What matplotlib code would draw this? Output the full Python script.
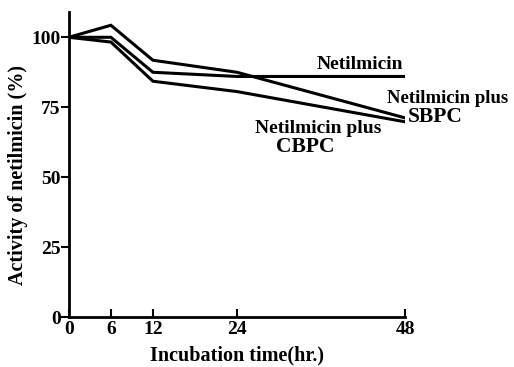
import matplotlib
matplotlib.use("Agg")
import matplotlib.pyplot as plt

hours = [0, 6, 12, 24, 48]
netilmicin = [100, 100, 87.5, 86, 86]
plus_sbpc = [100, 104.3, 91.8, 87.5, 71.2]
plus_cbpc = [100, 98.3, 84.3, 80.6, 69.8]

x_ticks = [0, 6, 12, 24, 48]
y_ticks = [0, 25, 50, 75, 100]

plt.rcParams['font.family'] = ['Liberation Serif', 'DejaVu Serif']
plt.rcParams['font.weight'] = 'bold'

fig = plt.figure(figsize=(5.14, 3.67), dpi=100)
ax = fig.add_axes([0.134, 0.136, 0.654, 0.831])

for ys in (netilmicin, plus_sbpc, plus_cbpc):
    ax.plot(hours, ys, color='black', lw=2.2, solid_joinstyle='miter')

ax.set_xlim(0, 48)
ax.set_ylim(0, 109)
ax.spines['top'].set_visible(False)
ax.spines['right'].set_visible(False)
ax.spines['left'].set_linewidth(2)
ax.spines['bottom'].set_linewidth(2)
ax.spines['bottom'].set_bounds(0, 48)

ax.set_xticks(x_ticks)
ax.set_yticks(y_ticks)
ax.tick_params(axis='x', direction='in', length=6, width=1.5, labelsize=14, pad=3)
ax.tick_params(axis='y', direction='out', length=6, width=1.5, labelsize=14, pad=0)
for lab in ax.get_xticklabels() + ax.get_yticklabels():
    lab.set_fontweight('bold')

ax.set_xlabel('Incubation time(hr.)', fontsize=14.5, fontweight='bold', labelpad=5)
ax.set_ylabel('Activity of netilmicin (%)', fontsize=14.5, fontweight='bold')
ax.yaxis.set_label_coords(-0.122, 0.466)

ax.text(41.5, 90.4, 'Netilmicin', fontsize=14, fontweight='bold', ha='center', va='center')
ax.text(54.1, 78.2, 'Netilmicin plus', fontsize=13.5, fontweight='bold', ha='center',
        va='center', clip_on=False)
ax.text(52.3, 71.4, 'SBPC', fontsize=15.5, fontweight='bold', ha='center', va='center',
        clip_on=False)
ax.text(35.6, 67.5, 'Netilmicin plus', fontsize=14, fontweight='bold', ha='center', va='center')
ax.text(33.8, 60.7, 'CBPC', fontsize=15.5, fontweight='bold', ha='center', va='center')

fig.savefig('out.png', dpi=100)
